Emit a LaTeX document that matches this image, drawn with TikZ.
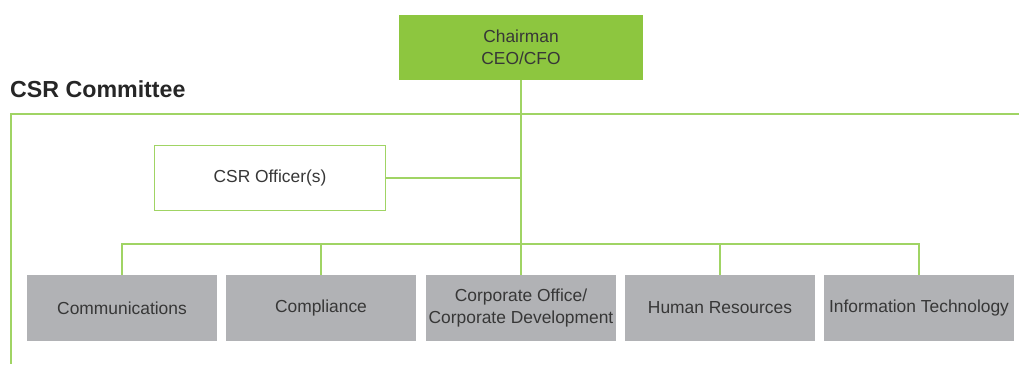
\documentclass[tikz,border=0pt]{standalone}
\usepackage{fontspec}
\setmainfont{Liberation Sans}
\definecolor{boxgreen}{RGB}{141,198,63}
\definecolor{linegreen}{RGB}{160,212,100}
\definecolor{boxgray}{RGB}{177,178,181}
\definecolor{txt}{RGB}{55,55,55}
\begin{document}
\begin{tikzpicture}[x=1pt,y=-1pt,
  box/.style={minimum width=190pt, minimum height=66pt, inner sep=0pt, align=center,
    font=\fontsize{17.4}{22}\selectfont, text=txt},
  dept/.style={box, fill=boxgray},
  link/.style={draw=linegreen, line width=1.4pt},
  frameline/.style={draw=linegreen, line width=1.6pt}]
\useasboundingbox (0,0) rectangle (1019,364);
\node[box, fill=boxgreen, minimum width=244pt, minimum height=65pt] (chair) at (521,47.5) {Chairman\\CEO/CFO};
\node[anchor=base west, font=\fontsize{23.2}{27}\selectfont\bfseries, text=black!85, inner sep=0pt] (title) at (10,97) {CSR Committee};
\draw[frameline] (1019,114) -- (11,114) -- (11,364);
\node[box, draw=linegreen, line width=1.4pt, minimum width=231pt, minimum height=65pt] (off) at (270,178) {CSR Officer(s)};
\node[dept] (comm) at (122,308) {Communications};
\node[dept] (comp) at (321,308) {Compliance};
\node[dept] (corp) at (521,308) {Corporate Office/\\Corporate Development};
\node[dept] (hr) at (720,308) {Human Resources};
\node[dept] (it) at (919,308) {Information Technology};
\coordinate (bus) at (0,244);
\draw[link] (chair.south) -- (corp.north);
\draw[link] (off.east) -- (off.east -| chair.south);
\draw[link] (comm.north) -- (comm.north |- bus) -| (it.north);
\draw[link] (comp.north) -- (comp.north |- bus);
\draw[link] (hr.north) -- (hr.north |- bus);
\end{tikzpicture}
\end{document}
